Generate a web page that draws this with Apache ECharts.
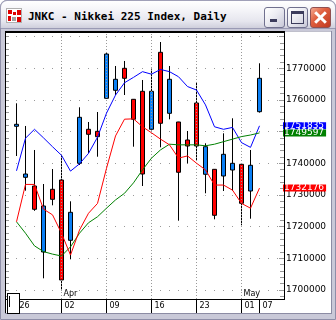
<!DOCTYPE html>
<html>
<head>
<meta charset="utf-8">
<script src="https://cdn.jsdelivr.net/npm/echarts@6/dist/echarts.min.js"></script>
<style>
html,body{margin:0;padding:0;}
body{width:336px;height:320px;overflow:hidden;position:relative;background:#ffffff;}
.abs{position:absolute;box-sizing:border-box;}
#win{left:0;top:0;width:336px;height:320px;background:#c9c9d8;border-radius:7px 7px 0 0;border:1px solid #8e8ea8;}
#title{left:0;top:0;width:336px;height:28px;border-radius:7px 7px 0 0;background:linear-gradient(#ffffff 0%,#f4f4f8 35%,#e6e6ee 75%,#cfcfdc 100%);border:1px solid #a0a0b8;border-bottom:none;}
#ttext{left:27px;top:10px;font-family:'DejaVu Sans Mono',monospace;font-weight:bold;font-size:11px;line-height:12px;color:#000;white-space:nowrap;}
#client{left:5px;top:31px;width:326px;height:282px;background:#fff;}
.btn{top:6px;width:21px;height:21px;border:1px solid #70708e;border-radius:3px;background:linear-gradient(135deg,#ffffff 0%,#ececf2 45%,#c8c8d8 100%);}
#bclose{background:linear-gradient(135deg,#f4a890 0%,#e06040 40%,#c03820 100%);border-color:#905050;}
.blk{position:absolute;background:#000;}
#chart{left:0;top:0;width:336px;height:320px;}
</style>
</head>
<body>
<div id="win" class="abs"></div>
<div id="title" class="abs">
  <div class="abs" style="left:5px;top:7px;width:16px;height:15px;background:#fff;border:1px solid #b0b0b0;">
    <div class="abs" style="left:1px;top:1px;width:4px;height:4px;background:#e00000"></div>
    <div class="abs" style="left:6px;top:3px;width:3px;height:3px;background:#e00000"></div>
    <div class="abs" style="left:10px;top:1px;width:4px;height:5px;background:#e00000"></div>
    <div class="abs" style="left:1px;top:7px;width:3px;height:5px;background:#e00000"></div>
    <div class="abs" style="left:5px;top:8px;width:4px;height:4px;background:#a0a0a0"></div>
    <div class="abs" style="left:10px;top:8px;width:4px;height:5px;background:#e00000"></div>
  </div>
  <div id="ttext" class="abs">JNKC - Nikkei 225 Index, Daily</div>
  <div class="abs btn" style="left:263px;">
    <div class="abs" style="left:5px;top:11px;width:7px;height:3px;background:#3c3c5c"></div>
  </div>
  <div class="abs btn" style="left:286px;">
    <div class="abs" style="left:3px;top:3px;width:13px;height:13px;border:1px solid #3c3c5c;border-top:3px solid #3c3c5c;"></div>
  </div>
  <div id="bclose" class="abs btn" style="left:309px;">
    <div class="abs" style="left:2px;top:8px;width:15px;height:3px;background:#fff;transform:rotate(45deg)"></div>
    <div class="abs" style="left:2px;top:8px;width:15px;height:3px;background:#fff;transform:rotate(-45deg)"></div>
  </div>
</div>
<div class="abs" style="left:1px;top:28px;width:334px;height:1px;background:#9a9ab4"></div>
<div id="client" class="abs"></div>
<div id="chart" class="abs"></div>
<!-- frame overlay -->
<div class="blk" style="left:5px;top:31px;width:280px;height:2px"></div>
<div class="blk" style="left:5px;top:31px;width:1px;height:282px"></div>
<div class="blk" style="left:5px;top:299px;width:280px;height:1px"></div>
<div class="blk" style="left:284px;top:31px;width:1px;height:269px"></div>
<div class="abs" style="left:285px;top:31px;width:46px;height:1px;background:#c0c0cc"></div>
<div class="abs" style="left:331px;top:31px;width:1px;height:283px;background:#8c8ca4"></div>
<div class="abs" style="left:5px;top:313px;width:327px;height:1px;background:#8c8ca4"></div>
<div class="abs" style="left:7px;top:293px;width:13px;height:21px;border:1px solid #000;background:#fff;">
  <div class="abs" style="left:1px;top:2px;width:1px;height:11px;background:#000"></div>
</div>
<script>
// ---- data ----
const dates = ['03/26','03/27','03/28','03/29','03/30','04/02','04/03','04/04','04/05','04/06',
  '04/09','04/10','04/11','04/12','04/13','04/16','04/17','04/18','04/19','04/20',
  '04/23','04/24','04/25','04/26','04/27','05/01','05/02','05/07'];
const opens  = [1751680,1735580,1732830,1712000,1731790,1734730,1715690,1740000,1750730,1750100,
  1760520,1763050,1769990,1760200,1762730,1750730,1775040,1755780,1753040,1747360,
  1759040,1736530,1738100,1735990,1737880,1739680,1731250,1756290];
const closes = [1752310,1736620,1725480,1726520,1728630,1703160,1724530,1754520,1749150,1748400,
  1774500,1766520,1766830,1753890,1736620,1762730,1752630,1766520,1737160,1745460,
  1745460,1745240,1723580,1742840,1740000,1727370,1739370,1766830];
const lows   = [1742300,1731350,1725000,1703690,1726740,1700000,1709690,1739460,1743160,1742080,
  1760400,1761560,1761560,1745240,1732830,1750600,1745050,1753890,1721880,1740000,
  1741040,1730530,1722320,1731250,1731350,1720430,1722510,1756000];
const highs  = [1758940,1751780,1744200,1733460,1738200,1742530,1728000,1757680,1753040,1756190,
  1774800,1770720,1772300,1760300,1766300,1769680,1778290,1770720,1753100,1750200,
  1765670,1746310,1738200,1749470,1754210,1739800,1744200,1771570];
const blueLine  = [1737630,1747930,1750730,1748030,1745230,1742530,1737530,1739830,1743130,1748230,
  1755830,1761530,1765430,1767130,1768930,1768130,1769630,1768930,1767330,1764230,
  1763130,1758430,1751530,1750730,1751330,1746530,1745030,1751835];
const redLine   = [1721530,1733330,1733330,1725530,1723730,1717930,1711030,1718930,1724230,1727330,
  1738430,1748630,1753930,1754030,1751530,1749630,1747630,1745830,1741630,1742330,
  1740030,1737930,1733130,1733130,1731530,1727330,1725830,1732176];
const greenLine = [1721530,1717930,1713930,1712130,1711330,1710730,1713630,1717930,1721230,1723130,
  1725830,1728430,1730530,1733830,1737930,1741630,1744230,1746030,1745830,1745830,
  1745830,1745530,1746030,1746830,1747630,1748430,1748930,1749597];
const weekTicks  = ['03/26','04/02','04/09','04/16','04/23','05/01','05/07'];
const weekLabels = ['26','02','09','16','23','01','07'];
const gridDates  = ['04/02','04/09','04/16','04/23','05/01'];
const monthStarts = ['04/02','05/01'];
const monthLabels = ['Apr','May'];
const priceTicks = [1700000,1710000,1720000,1730000,1740000,1760000,1770000];
const padAfter = ['p1','p2'];
const yMin = 1697160, yMax = 1781450;

// ---- chart ----
const cats = dates.concat(padAfter);
const ohlc = dates.map((d, i) => [opens[i], closes[i], lows[i], highs[i]]);
const FONT = 'DejaVu Sans';
const chart = echarts.init(document.getElementById('chart'), null, {renderer: 'canvas'});

function lineSeries(name, data, color) {
  return {
    name, type: 'line', data, symbol: 'none', z: 5, animation: false,
    lineStyle: {color, width: 1},
    markLine: {
      silent: true, symbol: 'none', animation: false,
      lineStyle: {color: 'rgba(0,0,0,0)', width: 1, type: 'solid'},
      label: {
        show: true, position: 'end', distance: 1,
        formatter: p => String(p.value),
        color: '#fff', backgroundColor: color, fontFamily: FONT, fontSize: 9,
        lineHeight: 7, padding: [0, 2, 0, 1]
      },
      data: [{yAxis: data[data.length - 1]}]
    }
  };
}

chart.setOption({
  animation: false,
  grid: {left: 12, top: 32, width: 270, height: 267},
  xAxis: [{
    type: 'category', data: cats, boundaryGap: true, position: 'bottom',
    axisLine: {show: false, onZero: false},
    axisTick: {show: true, alignWithLabel: true, length: 14, inside: false,
      interval: (i, v) => weekTicks.includes(v), lineStyle: {color: '#000'}},
    axisLabel: {show: true, interval: (i, v) => weekTicks.includes(v),
      formatter: v => weekLabels[weekTicks.indexOf(v)] || '',
      align: 'left', padding: [0, 0, 0, 3], margin: 3,
      fontFamily: FONT, fontSize: 8, color: '#000'},
    splitLine: {show: false}
  }, {
    type: 'category', data: cats, boundaryGap: true, position: 'bottom',
    axisLine: {show: false, onZero: false}, axisTick: {show: false},
    axisLabel: {show: true, inside: true, interval: (i, v) => monthStarts.includes(v),
      formatter: v => monthLabels[monthStarts.indexOf(v)] || '',
      align: 'left', padding: [0, 0, 0, 2], margin: 1,
      fontFamily: FONT, fontSize: 8, color: '#000'},
    splitLine: {show: false}
  }],
  yAxis: [{
    type: 'value', position: 'right', offset: 2, min: yMin, max: yMax, splitNumber: 8,
    axisLine: {show: false},
    axisTick: {show: true, inside: true, length: 5, lineStyle: {color: '#999'}},
    minorTick: {show: true, splitNumber: 5, length: 4, lineStyle: {color: '#999'}},
    splitLine: {show: true, lineStyle: {color: '#999', width: 1, type: [1, 8], dashOffset: 5}},
    axisLabel: {show: true, margin: 2, showMinLabel: false, showMaxLabel: false,
      fontFamily: FONT, fontSize: 9, color: '#000', padding: [0, 0, 4, 0],
      formatter: v => priceTicks.includes(v) ? String(v) : ''}
  }, {
    type: 'value', position: 'left', offset: 6, min: yMin, max: yMax, splitNumber: 8,
    axisLine: {show: false},
    axisTick: {show: true, inside: true, length: 3, lineStyle: {color: '#999'}},
    minorTick: {show: true, splitNumber: 5, length: 3, lineStyle: {color: '#999'}},
    splitLine: {show: false}, axisLabel: {show: false}
  }],
  series: [{
    type: 'candlestick', data: ohlc, barWidth: 4, z: 3, animation: false,
    itemStyle: {color: '#0a7ff5', color0: '#ff0000', borderColor: '#000', borderColor0: '#000', borderWidth: 1},
    markLine: {
      silent: true, symbol: 'none', animation: false,
      label: {show: false},
      lineStyle: {color: '#999', width: 1, type: [1, 2]},
      data: gridDates.map(d => ({xAxis: d}))
    }
  },
  lineSeries('blue', blueLine, '#0000ff'),
  lineSeries('green', greenLine, '#008000'),
  lineSeries('red', redLine, '#ff0000')
  ]
});
</script>
</body>
</html>
